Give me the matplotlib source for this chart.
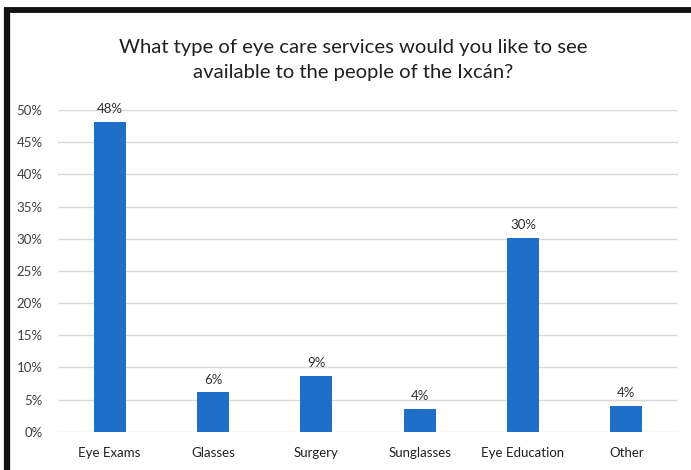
import matplotlib
matplotlib.use("Agg")
import matplotlib.pyplot as plt
from matplotlib.lines import Line2D

categories = ["Eye Exams", "Glasses", "Surgery", "Sunglasses", "Eye Education", "Other"]
values = [48.1, 6.1, 8.7, 3.6, 30.1, 4.0]
labels = ["48%", "6%", "9%", "4%", "30%", "4%"]
yticks = [0, 5, 10, 15, 20, 25, 30, 35, 40, 45, 50]
title = "What type of eye care services would you like to see\navailable to the people of the Ixcán?"

plt.rcParams['font.family'] = ['Lato', 'DejaVu Sans']

W, H = 691, 470
fig = plt.figure(figsize=(W / 100, H / 100), dpi=100)
fig.patch.set_facecolor("white")

ax = fig.add_axes([58 / W, 1 - 431.7 / H, (678 - 58) / W, (431.7 - 110) / H])
x = list(range(len(categories)))
ax.bar(x, values, width=0.31, color="#1f6fc8", zorder=3)
ax.set_xlim(-0.5, len(categories) - 0.5)
ax.set_ylim(0, 50)
ax.set_yticks(yticks)
ax.set_yticklabels([f"{t}%" for t in yticks], fontsize=9.5, color="#404040")
ax.set_xticks(x)
ax.set_xticklabels(categories, fontsize=9.5, color="#202020")
ax.tick_params(axis="both", length=0)
ax.tick_params(axis="x", pad=11)
ax.tick_params(axis="y", pad=11)
ax.grid(axis="y", color="#d9d9d9", linewidth=1, zorder=0)
for s in ax.spines.values():
    s.set_visible(False)
for xi, v, lab in zip(x, values, labels):
    ax.annotate(lab, (xi, v), xytext=(0, 5), textcoords="offset points",
                ha="center", va="bottom", fontsize=9.5, color="#303030")

fig.text(353 / W, 1 - 60 / H, title, ha="center", va="center", fontsize=14.6,
         color="#202020", linespacing=1.6)

# outer frame (top and left)
fig.add_artist(Line2D([4 / W, 1.0], [1 - 9.5 / H, 1 - 9.5 / H], color="#111111", linewidth=4.2,
                      transform=fig.transFigure, solid_capstyle="butt"))
fig.add_artist(Line2D([7 / W, 7 / W], [0, 1 - 7.5 / H], color="#111111", linewidth=4.5,
                      transform=fig.transFigure, solid_capstyle="butt"))

fig.savefig("out.png", dpi=100, facecolor="white")
